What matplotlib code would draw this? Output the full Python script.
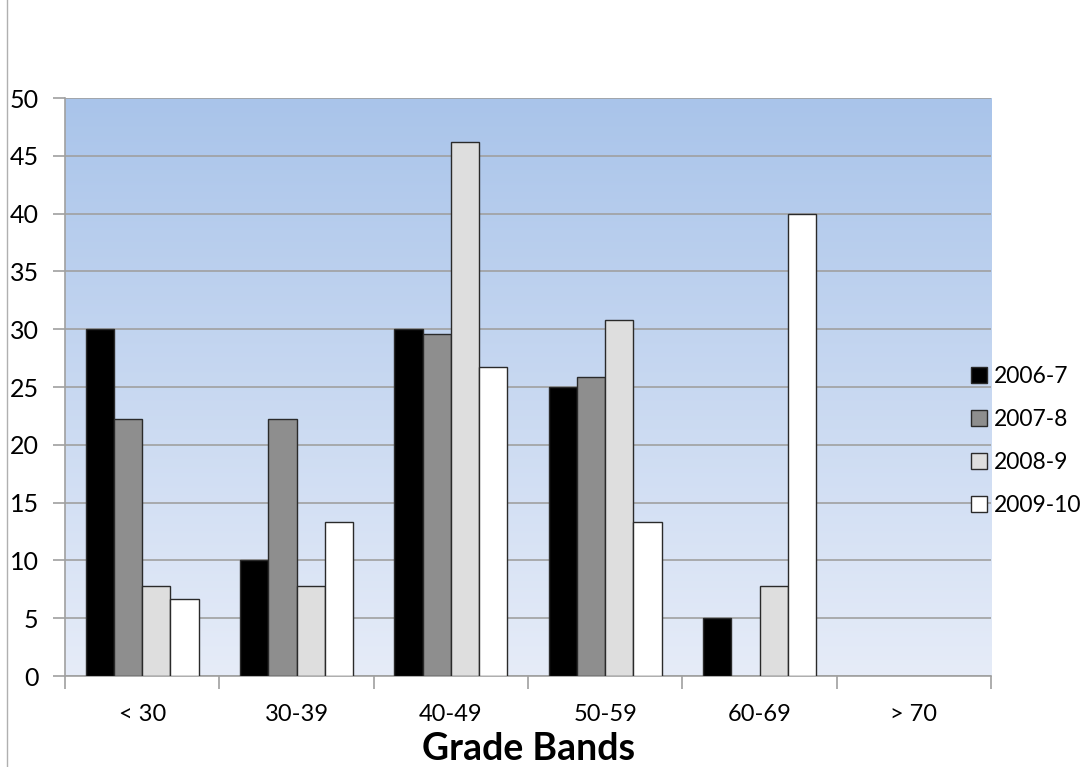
import numpy as np
import matplotlib.pyplot as plt
from matplotlib.colors import LinearSegmentedColormap

plt.rcParams['font.family'] = ['Lato', 'DejaVu Sans']

bands = ['< 30', '30-39', '40-49', '50-59', '60-69', '> 70']
years = ['2006-7', '2007-8', '2008-9', '2009-10']
y2006 = [30, 10, 30, 25, 5, 0]
y2007 = [22.2, 22.2, 29.6, 25.9, 0, 0]
y2008 = [7.8, 7.8, 46.2, 30.8, 7.8, 0]
y2009 = [6.7, 13.3, 26.7, 13.3, 40, 0]
series = [y2006, y2007, y2008, y2009]
colors = ['#000000', '#8e8e8e', '#dedede', '#ffffff']

fig = plt.figure(figsize=(10.87, 7.67), dpi=100)
ax = fig.add_axes([0.0598, 0.1186, 0.852, 0.7536])

# blue gradient behind the plot area
grad = LinearSegmentedColormap.from_list('bg', ['#e6ecf8', '#a9c4ea'])
ax.imshow(np.linspace(0, 1, 256).reshape(-1, 1), cmap=grad, aspect='auto',
          extent=[-0.5, len(bands) - 0.5, 0, 50], origin='lower', zorder=0)

x = np.arange(len(bands))
w = 0.183
for i, (vals, c, lab) in enumerate(zip(series, colors, years)):
    lw = [1 if v > 0 else 0 for v in vals]
    ax.bar(x + (i - 1.5) * w, vals, w, color=c, edgecolor='#2a2a2a',
           linewidth=lw, label=lab, zorder=3)

ax.set_xlim(-0.5, len(bands) - 0.5)
ax.set_ylim(0, 50)
ax.set_yticks(range(0, 51, 5))
ax.yaxis.grid(True, color='#a0a0a0', linewidth=1.2, zorder=1)
ax.set_axisbelow(True)

ax.set_xticks(x)
ax.set_xticklabels(bands, fontsize=17)
ax.set_xticks(np.arange(-0.5, len(bands)), minor=True)
ax.tick_params(axis='x', which='major', length=0, pad=20)
ax.tick_params(axis='x', which='minor', length=9, color='#a0a0a0', width=1.2)
ax.tick_params(axis='y', length=9, color='#a0a0a0', width=1.2,
               labelsize=18, pad=10)

for s in ['top', 'right']:
    ax.spines[s].set_visible(False)
for s in ['left', 'bottom']:
    ax.spines[s].set_color('#a0a0a0')
    ax.spines[s].set_linewidth(1.2)

ax.set_xlabel('Grade Bands', fontsize=27, fontweight='bold', labelpad=5)

handles, labels = ax.get_legend_handles_labels()
leg = fig.legend(handles, labels, loc='center left',
                 bbox_to_anchor=(0.893, 0.425), frameon=False,
                 fontsize=16.5, handlelength=0.7, handleheight=0.7,
                 handletextpad=0.3, labelspacing=0.95, borderpad=0,
                 borderaxespad=0)
for h in leg.legend_handles:
    h.set_linewidth(1)

# thin frame line at the left edge of the figure
fig.add_artist(plt.Line2D([0.0065, 0.0065], [0, 1], color='#b0b0b0', linewidth=1))

fig.savefig('out.png', dpi=100)
